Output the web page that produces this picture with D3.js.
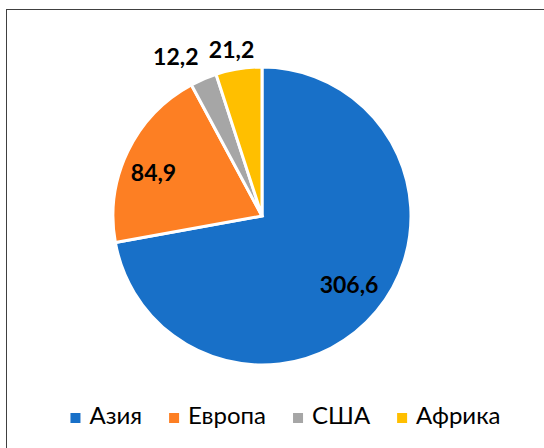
<!DOCTYPE html>
<html>
<head>
<meta charset="utf-8">
<script src="https://cdn.jsdelivr.net/npm/d3@7"></script>
<style>
  html, body { margin: 0; padding: 0; background: #fff; }
  svg { display: block; font-family: Lato, "Open Sans", sans-serif; }
</style>
</head>
<body>
<div id="graphic"></div>
<script>
// chart data
const categories = ['Азия', 'Европа', 'США', 'Африка'];
const values = [306.6, 84.9, 12.2, 21.2];
const colours = ['#1870c8', '#fd7f23', '#a6a6a6', '#ffbf00'];
// label placement (Excel "best fit"): distance as share of radius, angle nudge in degrees
const labelRadius = [0.745, 0.785, 1.215, 1.135];
const labelShift = [-1.5, -3.8, -5.3, -1.4];

const width = 544, height = 448;
const cx = 262, cy = 216, radius = 149;

const svg = d3.select('#graphic').append('svg')
    .attr('width', width)
    .attr('height', height);

// chart area frame (runs off right and bottom)
svg.append('rect')
    .attr('x', 6.5).attr('y', 9.5)
    .attr('width', 600).attr('height', 500)
    .attr('fill', 'none')
    .attr('stroke', '#404040')
    .attr('stroke-width', 1);

const pie = d3.pie().sort(null).value((d) => d.value);
const arcs = pie(categories.map((c, i) => ({ name: c, value: values[i], i })));

const arc = d3.arc().innerRadius(0).outerRadius(radius);

const g = svg.append('g').attr('transform', `translate(${cx},${cy})`);

g.selectAll('path')
    .data(arcs)
    .join('path')
    .attr('d', arc)
    .attr('fill', (d) => colours[d.data.i])
    .attr('stroke', '#fff')
    .attr('stroke-width', 3)
    .attr('stroke-linejoin', 'miter');

const fmt = (v) => d3.format('.1f')(v).replace('.', ',');

g.selectAll('text.label')
    .data(arcs)
    .join('text')
    .attr('class', 'label')
    .attr('transform', (d) => {
        const a = (d.startAngle + d.endAngle) / 2 + labelShift[d.data.i] * Math.PI / 180;
        const r = radius * labelRadius[d.data.i];
        return `translate(${Math.sin(a) * r},${-Math.cos(a) * r})`;
    })
    .attr('text-anchor', 'middle')
    .attr('dy', '0.36em')
    .attr('font-size', 23)
    .attr('font-weight', 'bold')
    .attr('fill', '#000')
    .text((d) => fmt(d.data.value));

// legend
const legend = svg.append('g');
let lx = 0;
categories.forEach((c, i) => {
    const item = legend.append('g').attr('transform', `translate(${lx},0)`);
    item.append('rect')
        .attr('x', 0).attr('y', -11)
        .attr('width', 10).attr('height', 10)
        .attr('fill', colours[i]);
    const t = item.append('text')
        .attr('x', 19).attr('y', 0)
        .attr('font-size', 24)
        .attr('fill', '#000')
        .text(c);
    lx += 19 + t.node().getComputedTextLength() + 27;
});
const legendWidth = lx - 27;
legend.attr('transform', `translate(${(73 + 498) / 2 - legendWidth / 2},424)`);
</script>
</body>
</html>
